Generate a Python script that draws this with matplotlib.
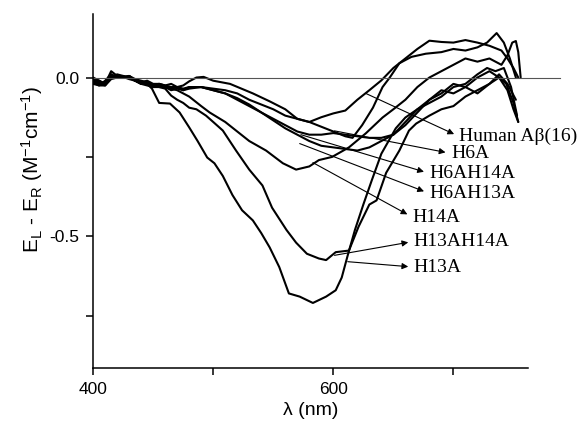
import matplotlib
matplotlib.use('Agg')
import matplotlib.pyplot as plt

# wavelengths (nm) and CD values (M^-1 cm^-1)
base_nm = [400, 405, 410, 415, 420, 425, 430, 435, 440, 445, 450, 455, 460, 465, 470, 475, 480]

human_nm = base_nm + [486, 492, 500, 514, 533, 547, 560, 570, 580, 590, 600, 610, 620, 630, 640,
                      650, 660, 670, 680, 690, 700, 710, 720, 730, 740, 745, 750, 754]
human_y = [-0.01, -0.02, -0.015, 0.005, 0.0, 0.005, 0.0, -0.01, -0.015, -0.01, -0.02, -0.02, -0.025,
           -0.02, -0.03, -0.025, -0.012, 0.0, 0.002, -0.01, -0.02, -0.05, -0.075, -0.1, -0.13, -0.14,
           -0.125, -0.113, -0.104, -0.07, -0.04, -0.009, 0.03, 0.06, 0.09, 0.116, 0.112, 0.11, 0.118,
           0.11, 0.10, 0.085, 0.06, 0.03, 0.0]

h6a_nm = base_nm + [490, 500, 510, 520, 530, 540, 550, 560, 570, 580, 590, 600, 610, 616, 624, 633,
                    641, 647, 655, 665, 677, 690, 700, 710, 720, 728, 736, 742, 747, 752]
h6a_y = [-0.02, -0.025, -0.01, 0.01, 0.0, 0.0, 0.005, -0.005, -0.01, -0.015, -0.025, -0.02, -0.025,
         -0.03, -0.03, -0.035, -0.03, -0.03, -0.035, -0.04, -0.05, -0.07, -0.085, -0.10, -0.12, -0.13,
         -0.14, -0.155, -0.17, -0.185, -0.19, -0.15, -0.095, -0.03, 0.0, 0.045, 0.065, 0.075, 0.08,
         0.09, 0.085, 0.095, 0.11, 0.14, 0.11, 0.06, 0.0]

h6ah14a_nm = base_nm + [490, 500, 510, 520, 530, 540, 550, 560, 570, 580, 590, 600, 610, 620, 630,
                        640, 650, 660, 670, 680, 690, 700, 710, 720, 730, 738, 745, 750, 754]
h6ah14a_y = [-0.005, -0.015, -0.02, 0.0, 0.005, 0.0, 0.0, -0.01, -0.02, -0.02, -0.03, -0.03, -0.03,
             -0.035, -0.03, -0.04, -0.035, -0.03, -0.04, -0.05, -0.07, -0.09, -0.11, -0.135, -0.16,
             -0.18, -0.2, -0.215, -0.22, -0.225, -0.23, -0.22, -0.2, -0.18, -0.15, -0.11, -0.07,
             -0.05, -0.02, -0.03, 0.0, 0.02, 0.0, -0.04, -0.1, -0.14]

h6ah13a_nm = base_nm + [490, 500, 510, 520, 530, 540, 550, 560, 570, 580, 590, 600, 610, 620, 630,
                        640, 650, 660, 670, 680, 690, 700, 710, 720, 730, 738, 745, 752]
h6ah13a_y = [-0.015, -0.025, -0.025, -0.005, 0.0, 0.002, -0.005, -0.01, -0.02, -0.025, -0.03, -0.025,
             -0.03, -0.04, -0.035, -0.04, -0.03, -0.03, -0.04, -0.05, -0.065, -0.085, -0.11, -0.13,
             -0.15, -0.17, -0.18, -0.18, -0.175, -0.18, -0.185, -0.19, -0.19, -0.18, -0.14, -0.1,
             -0.07, -0.04, -0.05, -0.03, -0.05, -0.02, 0.01, -0.02, -0.07]

h14a_nm = base_nm + [490, 497, 510, 520, 530, 544, 558, 569, 580, 588, 599, 613, 627, 641, 650, 660,
                     670, 680, 690, 700, 710, 720, 730, 740, 745, 749, 752, 754, 756]
h14a_y = [-0.005, -0.01, -0.02, 0.02, 0.005, 0.0, 0.005, -0.01, -0.015, -0.02, -0.025, -0.02, -0.03,
          -0.035, -0.04, -0.05, -0.06, -0.09, -0.11, -0.14, -0.17, -0.2, -0.23, -0.27, -0.29, -0.28,
          -0.26, -0.25, -0.22, -0.176, -0.126, -0.1, -0.07, -0.03, 0.0, 0.02, 0.04, 0.06, 0.05, 0.06,
          0.04, 0.07, 0.11, 0.115, 0.08, 0.0]

h13ah14a_nm = base_nm + [486, 494, 500, 508, 519, 530, 541, 549, 561, 569, 578, 588, 594, 602, 613,
                         621, 630, 636, 644, 655, 663, 669, 680, 690, 700, 710, 720, 730, 738, 744,
                         750, 754]
h13ah14a_y = [0.0, -0.01, -0.02, 0.01, 0.0, 0.0, 0.005, -0.01, -0.02, -0.02, -0.025, -0.03, -0.035,
              -0.057, -0.07, -0.08, -0.095, -0.1, -0.12, -0.14, -0.167, -0.23, -0.29, -0.34, -0.41,
              -0.48, -0.52, -0.555, -0.57, -0.575, -0.55, -0.545, -0.47, -0.40, -0.387, -0.30, -0.23,
              -0.167, -0.145, -0.12, -0.1, -0.09, -0.06, -0.04, -0.02, 0.0, -0.02, -0.08, -0.14]

h13a_nm = [400, 405, 410, 415, 420, 425, 430, 435, 440, 445, 449, 455, 464, 472, 480, 487, 495, 501,
           508, 516, 524, 533, 540, 547, 555, 563, 572, 583, 594, 602, 607, 612, 618, 625, 632, 640,
           652, 660, 670, 680, 690, 700, 710, 720, 728, 735, 742, 748, 753]
h13a_y = [-0.01, -0.02, -0.025, 0.0, 0.01, 0.005, 0.0, -0.01, -0.015, -0.02, -0.035, -0.08, -0.082,
          -0.11, -0.157, -0.2, -0.252, -0.27, -0.31, -0.37, -0.418, -0.45, -0.49, -0.535, -0.597,
          -0.68, -0.69, -0.71, -0.69, -0.67, -0.63, -0.56, -0.48, -0.40, -0.324, -0.24, -0.16,
          -0.126, -0.1, -0.08, -0.06, -0.03, -0.02, 0.01, 0.03, 0.02, 0.03, -0.03, -0.12]

curves = [(human_nm, human_y), (h6a_nm, h6a_y), (h6ah14a_nm, h6ah14a_y), (h6ah13a_nm, h6ah13a_y),
          (h14a_nm, h14a_y), (h13ah14a_nm, h13ah14a_y), (h13a_nm, h13a_y)]

labels = ['Human A\u03b2(16)', 'H6A', 'H6AH14A', 'H6AH13A', 'H14A', 'H13AH14A', 'H13A']
# arrow start (on curve) and label anchor, data coords
arrow_from = [(627, -0.05), (601, -0.168), (573, -0.18), (572, -0.208), (583, -0.268), (601, -0.56), (612, -0.58)]
label_at = [(705, -0.186), (698, -0.239), (680, -0.302), (680, -0.365), (666, -0.44), (667, -0.516), (667, -0.597)]

fig = plt.figure(figsize=(5.82, 4.25), dpi=100)
ax = fig.add_axes([0.16, 0.134, 0.747, 0.833])

for nm, y in curves:
  ax.plot(nm, y, color='black', lw=1.5, solid_joinstyle='round', solid_capstyle='round')

ax.axhline(0, xmin=0, xmax=1.074, color='#555555', lw=0.8, clip_on=False)

for text, (x0, y0), (x1, y1) in zip(labels, arrow_from, label_at):
  ax.annotate(text, xy=(x0, y0), xytext=(x1, y1), ha='left', va='center',
              family='Liberation Serif', fontsize=14, annotation_clip=False,
              arrowprops=dict(arrowstyle='<|-', color='black', lw=0.8, mutation_scale=9,
                              shrinkA=2, shrinkB=0, relpos=(0, 0.5)))

ax.set_xlim(400, 762)
ax.set_ylim(-0.915, 0.2)
ax.set_xticks([400, 500, 600, 700])
ax.set_xticklabels(['400', '', '600', ''])
ax.set_yticks([0.0, -0.25, -0.5, -0.75])
ax.set_yticklabels(['0.0', '', '-0.5', ''])
ax.tick_params(direction='out', length=5, width=1.1, pad=5, labelsize=12.5)
for t in ax.get_xticklabels() + ax.get_yticklabels():
  t.set_family('Liberation Sans')
for s in ['top', 'right']:
  ax.spines[s].set_visible(False)
for s in ['left', 'bottom']:
  ax.spines[s].set_linewidth(1.1)

plt.rcParams['mathtext.default'] = 'regular'
ax.set_ylabel(r'E$_L$ - E$_R$ (M$^{-1}$cm$^{-1}$)', family='Liberation Sans', fontsize=15)
ax.yaxis.set_label_coords(-0.11, 0.56)
ax.set_xlabel('\u03bb (nm)', family='Liberation Sans', fontsize=14, labelpad=4)

fig.savefig('out.png', dpi=100)
